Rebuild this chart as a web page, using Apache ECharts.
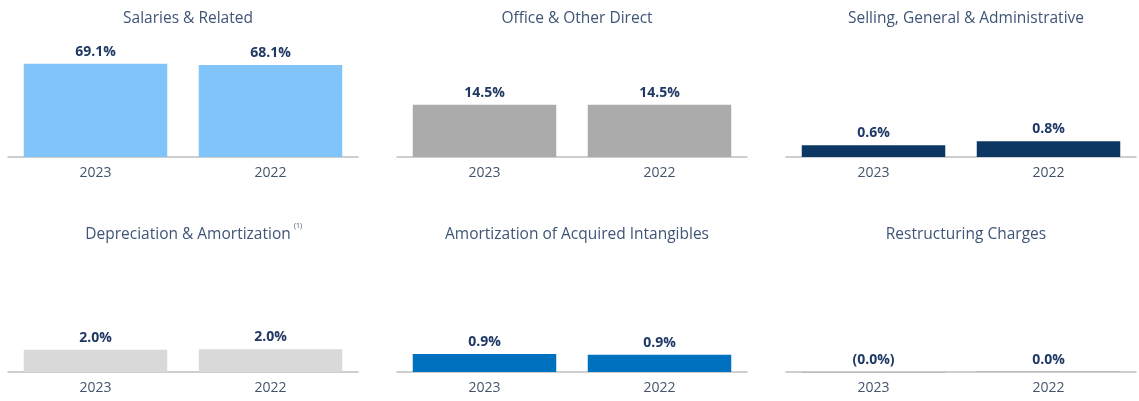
<!DOCTYPE html>
<html>
<head>
<meta charset="utf-8">
<script src="https://cdn.jsdelivr.net/npm/echarts@6/dist/echarts.min.js"></script>
<style>
  html, body { margin: 0; padding: 0; background: #fff; }
  #chart { width: 1139px; height: 401px; }
</style>
</head>
<body>
<div id="chart"></div>
<script>
// panel titles and categories
const panelTitles = [
  'Salaries & Related',
  'Office & Other Direct',
  'Selling, General & Administrative',
  'Depreciation & Amortization',
  'Amortization of Acquired Intangibles',
  'Restructuring Charges',
];
const years = ['2023', '2022'];

// % of revenue, per panel
const salaries = [69.1, 68.1];
const officeDirect = [14.5, 14.5];
const sga = [0.6, 0.8];
const deprAmort = [1.97, 2.03];
const amortIntangibles = [0.92, 0.88];
const restructuring = [-0.01, 0.01];

const panelValues = [salaries, officeDirect, sga, deprAmort, amortIntangibles, restructuring];
const panelColors = ['#80C4FA', '#ABABAB', '#0D3763', '#D9D9D9', '#0071BF', '#7F7F7F'];
// each small multiple has its own value scale
const panelMax = [80, 30, 5.5, 9.6, 5.5, 5.5];

const FONT = '"Open Sans", "DejaVu Sans", sans-serif';
const colLeft = [8, 397, 786];
const colWidth = 350;
const rowTop = [49, 264];
const rowHeight = 108;
const titleTop = [6, 222];

function fmt(v) {
  const s = Math.abs(v).toFixed(1) + '%';
  return v < 0 ? '(' + s + ')' : s;
}

const grids = [], xAxes = [], yAxes = [], series = [], titles = [];

panelValues.forEach((vals, i) => {
  const col = i % 3, row = Math.floor(i / 3);
  grids.push({ left: colLeft[col], top: rowTop[row], width: colWidth, height: rowHeight });
  xAxes.push({
    gridIndex: i,
    type: 'category',
    data: years,
    axisLine: { lineStyle: { color: '#BFBFBF', width: 1.5 } },
    axisTick: { show: false },
    axisLabel: { color: '#44546A', fontSize: 14, fontFamily: FONT, margin: 9 },
  });
  yAxes.push({
    gridIndex: i,
    type: 'value',
    min: 0,
    max: panelMax[i],
    show: false,
    splitLine: { show: false },
  });
  series.push({
    type: 'bar',
    xAxisIndex: i,
    yAxisIndex: i,
    data: vals,
    clip: false,
    barCategoryGap: '18%',
    itemStyle: { color: panelColors[i] },
    label: {
      show: true,
      position: 'top',
      distance: 5,
      color: '#1F3864',
      fontSize: 14,
      fontWeight: 'bold',
      fontFamily: FONT,
      formatter: (p) => fmt(p.value),
    },
  });
  titles.push({
    text: panelTitles[i],
    left: colLeft[col] + colWidth / 2,
    top: titleTop[row],
    textAlign: 'center',
    textStyle: { color: '#3F5576', fontSize: 15.5, fontWeight: 'normal', fontFamily: FONT },
  });
});

// footnote marker on Depreciation & Amortization
titles.push({
  text: '(1)',
  left: 289,
  top: 217,
  textStyle: { color: '#3F5576', fontSize: 7, fontWeight: 'normal', fontFamily: FONT },
});

const chart = echarts.init(document.getElementById('chart'));
chart.setOption({
  animation: false,
  backgroundColor: '#fff',
  title: titles,
  grid: grids,
  xAxis: xAxes,
  yAxis: yAxes,
  series: series,
});
</script>
</body>
</html>
